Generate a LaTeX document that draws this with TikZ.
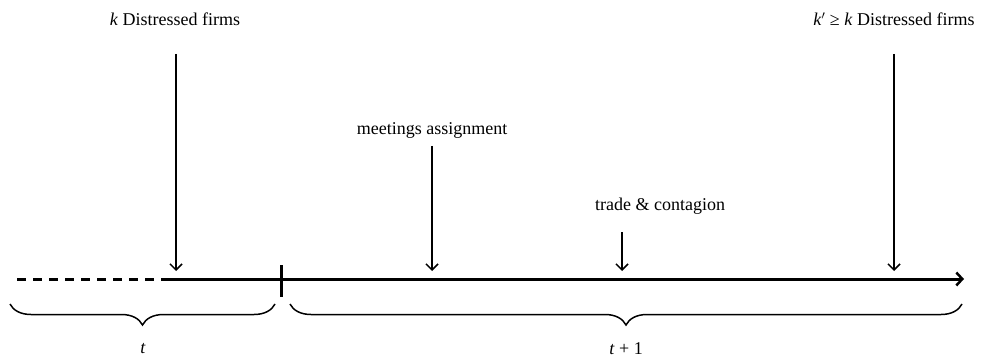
\documentclass[tikz,border=0pt]{standalone}
\usepackage{fontspec}
\setmainfont{Liberation Serif}
\usetikzlibrary{arrows.meta,decorations.pathreplacing}
\tikzset{
  lbl/.style={font=\fontsize{18}{21}\selectfont, inner sep=0pt, anchor=center},
  evarrow/.style={line width=1.5pt, -{Straight Barb[length=6pt,width=12pt,line width=1.5pt]}},
  axisline/.style={line width=3pt},
  bracestyle/.style={line width=1.5pt, decorate, decoration={brace, mirror, amplitude=21pt}}
}
\begin{document}
\begin{tikzpicture}[x=1pt,y=-1pt]
\useasboundingbox (0,0) rectangle (982,358);
% timeline
\coordinate (d0) at (17,279);
\coordinate (d1) at (162,279);
\coordinate (aend) at (964,279);
\draw[axisline, dash pattern=on 9pt off 7pt] (d0) -- (d1);
\draw[axisline, -{Straight Barb[length=6pt,width=13pt,line width=2.5pt]}] (d1) -- (aend);
\coordinate (tk0) at (281,265);
\coordinate (tk1) at (281,297);
\draw[axisline] (tk0) -- (tk1);
% events
\node[lbl] (l1) at (175,19) {\textit{k} Distressed firms};
\coordinate (a1s) at (176,54); \coordinate (a1e) at (176,271);
\draw[evarrow] (a1s) -- (a1e);
\node[lbl] (l2) at (432,130) {meetings assignment};
\coordinate (a2s) at (432,146); \coordinate (a2e) at (432,271);
\draw[evarrow] (a2s) -- (a2e);
\node[lbl] (l3) at (660,206) {trade \& contagion};
\coordinate (a3s) at (622,232); \coordinate (a3e) at (622,271);
\draw[evarrow] (a3s) -- (a3e);
\node[lbl] (l4) at (894,19) {\textit{k}$'$ ≥ \textit{k} Distressed firms};
\coordinate (a4s) at (894,54); \coordinate (a4e) at (894,271);
\draw[evarrow] (a4s) -- (a4e);
% braces
\coordinate (b1s) at (10,304); \coordinate (b1e) at (275,304);
\draw[bracestyle] (b1s) -- (b1e);
\coordinate (b2s) at (290,304); \coordinate (b2e) at (962,304);
\draw[bracestyle] (b2s) -- (b2e);
\node[lbl] (t1) at (143,349) {\textit{t}};
\node[lbl] (t2) at (626,349) {\textit{t} + 1};
\end{tikzpicture}
\end{document}
